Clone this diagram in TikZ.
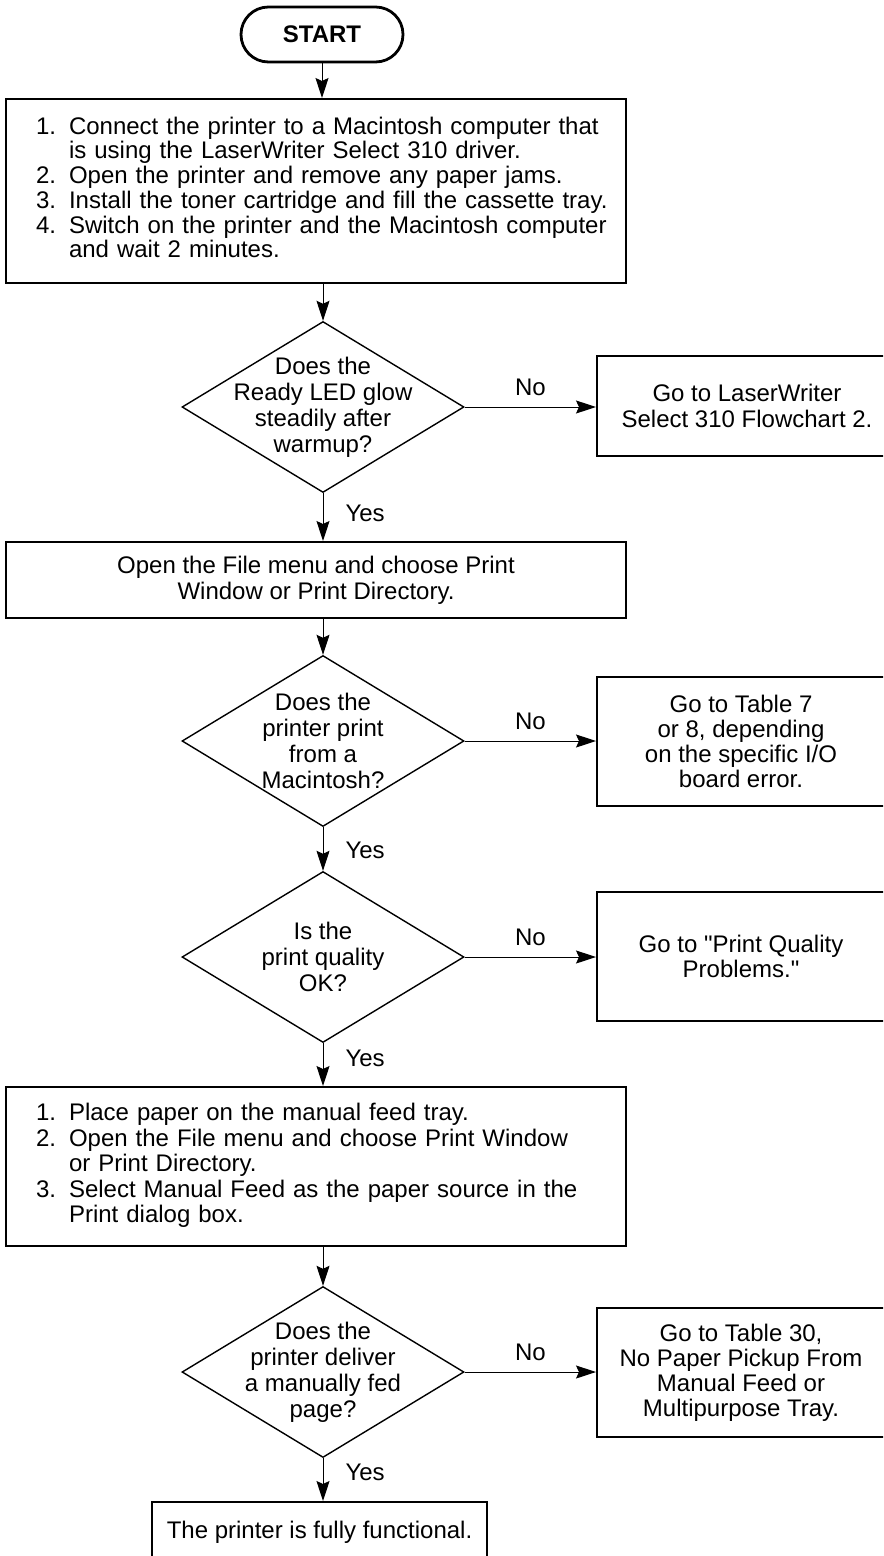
\documentclass[tikz,border=0pt]{standalone}
\usepackage{fontspec}
\setmainfont{Liberation Sans}
\newfontfamily\droit{Liberation Sans} %sans la conversion des guillemets
\usetikzlibrary{arrows.meta}
\usetikzlibrary{shapes.geometric}
\tikzstyle{boite}           =[draw, rectangle, line width=1pt, inner sep=0pt]
\tikzstyle{liste}           =[boite, minimum width=310pt, inner xsep=15pt, text width=280pt, align=left]
\tikzstyle{losange}         =[draw, diamond, line width=0.7pt, inner sep=0pt, minimum width=141pt, minimum height=85.5pt]
\tikzstyle{renvoi}          =[boite, minimum width=144pt, minimum height=64.5pt, align=center, font=\fontsize{12}{12.5}\selectfont]
\tikzstyle{fleche}          =[line width=0.5pt, -{Stealth[length=10pt, width=6.5pt, inset=1.5pt]}]
\tikzstyle{reponse}         =[inner sep=0pt]

\begin{document}
\begin{tikzpicture}[x=0.5pt,y=-0.5pt,font=\fontsize{12}{13}\selectfont]

\useasboundingbox (0,0) rectangle (883,1556);
\clip (0,0) rectangle (883,1556); %les boîtes de droite et la dernière dépassent du cadre

%%%%%%%%%%%%%%%%%%%%%%%%
%%%%%%%%%%%%%%%%%%%%%%%%
%Colonne principale
%%%%%%%%%%%%%%%%%%%%%%%%
%%%%%%%%%%%%%%%%%%%%%%%%

\node[draw, line width=1.4pt, rounded corners=13.7pt, minimum width=81pt, minimum height=27.5pt, font=\fontsize{12}{13}\selectfont\bfseries] (debut) at (322,34.5) {START};

\node[liste, minimum height=92pt, font=\fontsize{12}{12.3}\selectfont] (b1) at (316,191)
{\begin{tabular}{@{}l@{\hspace{6.5pt}}l@{}}
1. & Connect the printer to a Macintosh computer that\\
   & is using the LaserWriter Select 310 driver.\\
2. & Open the printer and remove any paper jams.\\
3. & Install the toner cartridge and fill the cassette tray.\\
4. & Switch on the printer and the Macintosh computer\\
   & and wait 2 minutes.
\end{tabular}};

\node[losange] (d1) at (323,407) {};
\node[align=center, inner sep=0pt] (t1) at (d1) {Does the\\Ready LED glow\\steadily after\\warmup?};

\node[boite, minimum width=310pt, minimum height=38pt, align=center] (b2) at (316,580)
{Open the File menu and choose Print\\Window or Print Directory.};

\node[losange] (d2) at (323,741) {};
\node[align=center, inner sep=0pt] (t2) at (d2) {Does the\\printer print\\from a\\Macintosh?};

\node[losange] (d3) at (323,957) {};
\node[align=center, inner sep=0pt] (t3) at (d3) {Is the\\print quality\\OK?};

\node[liste, minimum height=79.5pt, font=\fontsize{12}{12.8}\selectfont] (b3) at (316,1166.5)
{\begin{tabular}{@{}l@{\hspace{6.5pt}}l@{}}
1. & Place paper on the manual feed tray.\\
2. & Open the File menu and choose Print Window\\
   & or Print Directory.\\
3. & Select Manual Feed as the paper source in the\\
   & Print dialog box.
\end{tabular}};

\node[losange] (d4) at (323,1372) {};
\node[align=center, inner sep=0pt] (t4) at (d4) {Does the\\printer deliver\\a manually fed\\page?};

\node[boite, minimum width=167.5pt, minimum height=30pt] (fin) at (319.5,1532) {The printer is fully functional.};

%%%%%%%%%%%%%%%%%%%%%%%%
%%%%%%%%%%%%%%%%%%%%%%%%
%Renvois de droite
%%%%%%%%%%%%%%%%%%%%%%%%
%%%%%%%%%%%%%%%%%%%%%%%%

\node[renvoi, minimum width=150pt, minimum height=50pt, font=\fontsize{12}{13}\selectfont] (r1) at (747,406) {Go to LaserWriter\\Select 310 Flowchart 2.};
\node[renvoi] (r2) at (741,741.5) {Go to Table 7\\or 8, depending\\on the specific I/O\\board error.};
\node[renvoi] (r3) at (741,956.5) {Go to {\droit"}Print Quality\\Problems.{\droit"}};
\node[renvoi] (r4) at (741,1372.5) {Go to Table 30,\\No Paper Pickup From\\Manual Feed or\\Multipurpose Tray.};

%%%%%%%%%%%%%%%%%%%%%%%%
%%%%%%%%%%%%%%%%%%%%%%%%
%Flèches
%%%%%%%%%%%%%%%%%%%%%%%%
%%%%%%%%%%%%%%%%%%%%%%%%

\draw[fleche] (debut.south) -- (debut.south |- b1.north);
\draw[fleche] (d1.north |- b1.south) -- (d1.north);
\draw[fleche] (d1.south) -- (d1.south |- b2.north) node[reponse, pos=0.43, right=11pt] (oui1) {Yes};
\draw[fleche] (d2.north |- b2.south) -- (d2.north);
\draw[fleche] (d2.south) -- (d3.north) node[reponse, pos=0.52, right=11pt] (oui2) {Yes};
\draw[fleche] (d3.south) -- (d3.south |- b3.north) node[reponse, pos=0.36, right=11pt] (oui3) {Yes};
\draw[fleche] (d4.north |- b3.south) -- (d4.north);
\draw[fleche] (d4.south) -- (d4.south |- fin.north) node[reponse, pos=0.33, right=11pt] (oui4) {Yes};

%réponses négatives vers la droite
\draw[fleche] (d1.east) -- (d1.east -| r1.west) node[reponse, midway, above=5.5pt] (non1) {No};
\draw[fleche] (d2.east) -- (d2.east -| r2.west) node[reponse, midway, above=5.5pt] (non2) {No};
\draw[fleche] (d3.east) -- (d3.east -| r3.west) node[reponse, midway, above=5.5pt] (non3) {No};
\draw[fleche] (d4.east) -- (d4.east -| r4.west) node[reponse, midway, above=5.5pt] (non4) {No};

\end{tikzpicture}
\end{document}
